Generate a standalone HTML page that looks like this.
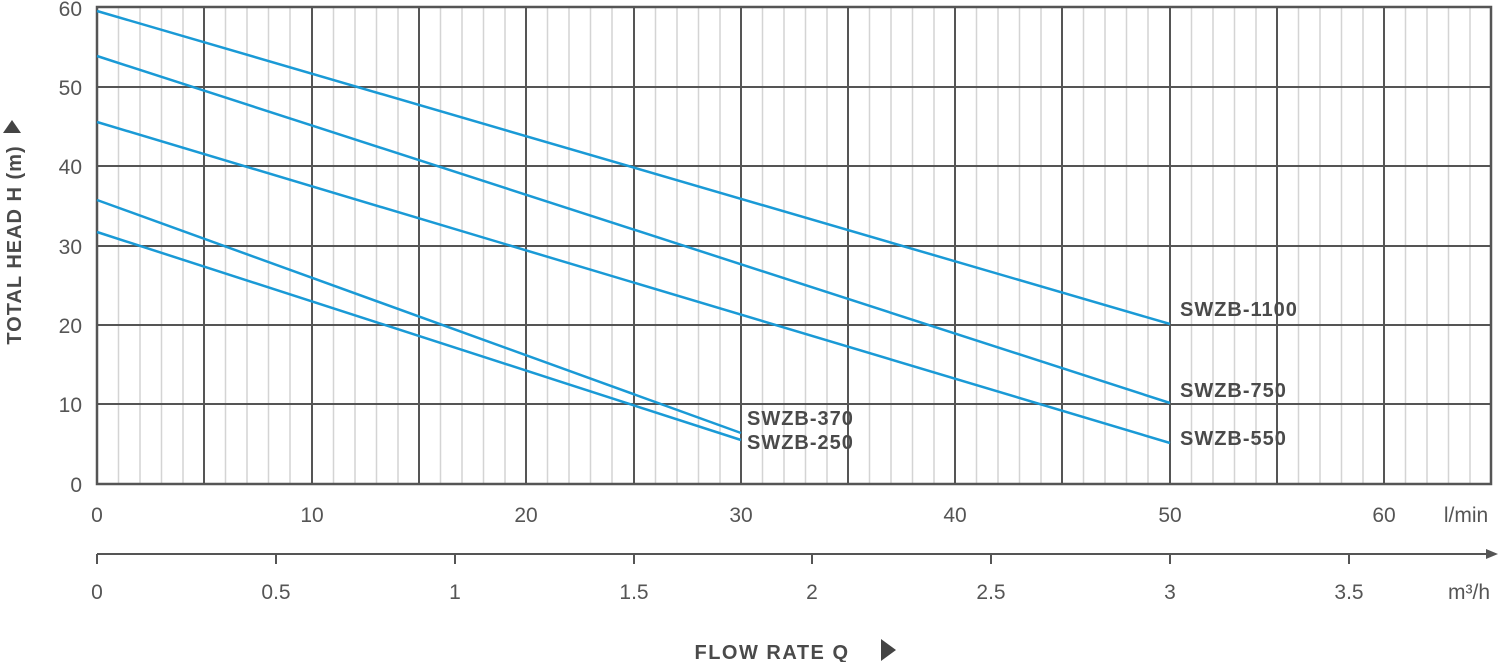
<!DOCTYPE html>
<html><head><style>body{margin:0;background:#fff}svg{display:block}</style></head><body>
<svg width="1500" height="662" xmlns="http://www.w3.org/2000/svg" font-family="Liberation Sans, sans-serif">
<g stroke="#d4d4d4" stroke-width="1.5">
<path d="M118.5 7V484M140 7V484M161.5 7V484M183 7V484M225.5 7V484M247 7V484M268.5 7V484M290 7V484M333.5 7V484M355 7V484M376.5 7V484M398 7V484M440.5 7V484M462 7V484M483.5 7V484M505 7V484M547.5 7V484M569 7V484M590.5 7V484M612 7V484M655.5 7V484M677 7V484M698.5 7V484M720 7V484M762.5 7V484M784 7V484M805.5 7V484M827 7V484M869.5 7V484M891 7V484M912.5 7V484M934 7V484M976.5 7V484M998 7V484M1019.5 7V484M1041 7V484M1083.5 7V484M1105 7V484M1126.5 7V484M1148 7V484M1191.5 7V484M1213 7V484M1234.5 7V484M1256 7V484M1298.5 7V484M1320 7V484M1341.5 7V484M1363 7V484M1405.5 7V484M1427 7V484M1448.5 7V484M1470 7V484"/>
</g>
<g stroke="#555" stroke-width="2">
<path d="M204 7V484M312 7V484M419 7V484M526 7V484M634 7V484M741 7V484M848 7V484M955 7V484M1062 7V484M1170 7V484M1277 7V484M1384 7V484"/>
<path d="M97 87H1491M97 166H1491M97 246H1491M97 325H1491M97 404H1491"/>
<rect x="97" y="7" width="1394" height="477" fill="none" stroke-width="2.5"/>
</g>
<g stroke="#1a9ad6" stroke-width="2.5" fill="none">
<path d="M97 11L1170 324"/><path d="M97 56L1170 403"/><path d="M97 122L1170 443"/><path d="M97 200L741 433"/><path d="M97 232L741 440"/>
</g>
<g font-weight="bold" font-size="20" fill="#4a4a4a" letter-spacing="1">
<text x="1180" y="316">SWZB-1100</text><text x="1180" y="397">SWZB-750</text><text x="1180" y="445">SWZB-550</text><text x="747" y="425">SWZB-370</text><text x="747" y="449">SWZB-250</text>
</g>
<g font-size="21" fill="#555" text-anchor="end">
<text x="82" y="16">60</text><text x="82" y="95">50</text><text x="82" y="174">40</text><text x="82" y="254">30</text><text x="82" y="333">20</text><text x="82" y="412">10</text><text x="82" y="492">0</text>
</g>
<g font-size="21" fill="#555" text-anchor="middle">
<text x="97" y="522">0</text><text x="312" y="522">10</text><text x="526" y="522">20</text><text x="741" y="522">30</text><text x="955" y="522">40</text><text x="1170" y="522">50</text><text x="1384" y="522">60</text>
<text x="1466" y="522">l/min</text>
<text x="97" y="599">0</text><text x="276" y="599">0.5</text><text x="455" y="599">1</text><text x="634" y="599">1.5</text><text x="812" y="599">2</text><text x="991" y="599">2.5</text><text x="1170" y="599">3</text><text x="1349" y="599">3.5</text>
<text x="1469" y="599">m³/h</text>
</g>
<g stroke="#555" stroke-width="2"><path d="M97 554H1488M97 554V564M276 554V564M455 554V564M634 554V564M812 554V564M991 554V564M1170 554V564M1349 554V564"/></g>
<path d="M1486 549L1498 554L1486 559Z" fill="#555"/>
<text x="772" y="659" font-size="20" font-weight="bold" fill="#4a4a4a" text-anchor="middle" letter-spacing="1.5">FLOW RATE Q</text>
<path d="M881 639L896 650L881 661Z" fill="#444"/>
<text transform="translate(21 245) rotate(-90)" font-size="20" font-weight="bold" fill="#4a4a4a" text-anchor="middle" letter-spacing="1">TOTAL HEAD H (m)</text>
<path d="M3 133L12 120L21 133Z" fill="#444"/>
</svg>
</body></html>
